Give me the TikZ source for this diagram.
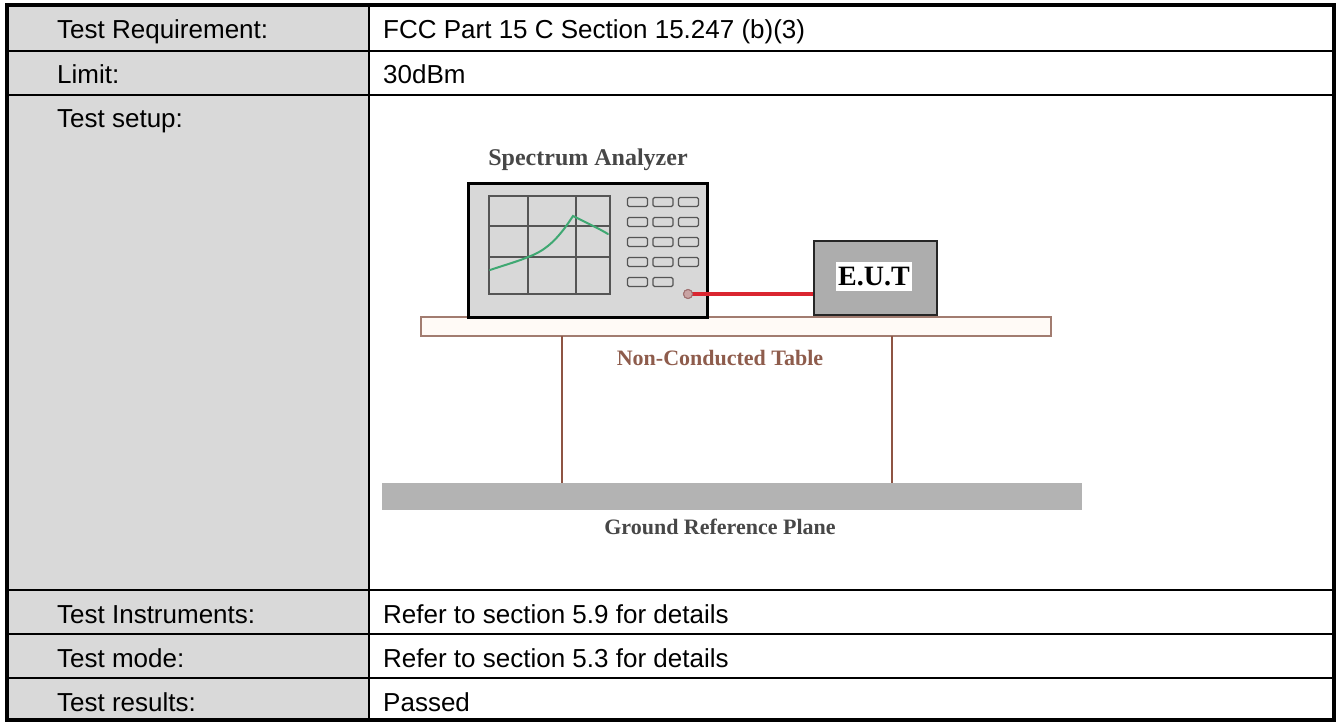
\documentclass[tikz,border=0pt]{standalone}
\usepackage{fontspec}
\setmainfont{Liberation Sans}
\newfontfamily\diagserif{Liberation Serif}
\definecolor{cellgray}{HTML}{D9D9D9}
\definecolor{sagray}{HTML}{D8D8D8}
\definecolor{eutgray}{HTML}{ADADAD}
\definecolor{gridgray}{HTML}{555555}
\definecolor{curvegreen}{HTML}{3FA872}
\definecolor{cablered}{HTML}{DA2530}
\definecolor{tablebrown}{HTML}{A27C70}
\definecolor{tablefill}{HTML}{FFFAF6}
\definecolor{legbrown}{HTML}{8E5443}
\definecolor{groundgray}{HTML}{B3B3B3}
\definecolor{labelbrown}{HTML}{8E5C4C}
\definecolor{labelgray}{HTML}{474747}
\definecolor{portfill}{HTML}{C9A3A3}
\definecolor{portdraw}{HTML}{A07070}
\tikzset{
  celltext/.style={anchor=base west, inner sep=0pt, font=\fontsize{26}{30}\selectfont},
  outerline/.style={line width=4pt},
  innerline/.style={line width=2.5pt},
  diaglabel/.style={inner sep=0pt, font=\diagserif\bfseries\fontsize{22}{26}\selectfont},
  gridline/.style={draw=gridgray, line width=1.4pt},
  sabutton/.style={draw=gridgray, line width=1.2pt, rounded corners=1.5pt, minimum width=20pt, minimum height=9pt, inner sep=0pt},
}
\begin{document}
\begin{tikzpicture}[x=1pt,y=-1pt]
\useasboundingbox (0,0) rectangle (1340,722);
% ---------- table ----------
\fill[cellgray] (7,5) rectangle (369,720);
\foreach \yy in {51,95,590,634,678} \draw[innerline] (7,\yy) -- (1334,\yy);
\draw[innerline] (369,5) -- (369,720);
\draw[outerline] (7,5) rectangle (1334,720);
\node[celltext] (l1) at (57,39) {Test Requirement:};
\node[celltext] (l2) at (57,84) {Limit:};
\node[celltext] (l3) at (57,128) {Test setup:};
\node[celltext] (l4) at (57,623) {Test Instruments:};
\node[celltext] (l5) at (57,667) {Test mode:};
\node[celltext] (l6) at (57,711) {Test results:};
\node[celltext] (r1) at (383,39) {FCC Part 15 C Section 15.247 (b)(3)};
\node[celltext] (r2) at (383,84) {30dBm};
\node[celltext] (r4) at (383,623) {Refer to section 5.9 for details};
\node[celltext] (r5) at (383,667) {Refer to section 5.3 for details};
\node[celltext] (r6) at (383,711) {Passed};
% ---------- setup drawing ----------
% table top and legs
\draw[draw=tablebrown, fill=tablefill, line width=1.6pt] (421,317) rectangle (1051,336);
\draw[draw=legbrown, line width=2pt] (562,336) -- (562,484);
\draw[draw=legbrown, line width=2pt] (892,336) -- (892,484);
\fill[groundgray] (382,483) rectangle (1082,510);
\node[diaglabel, text=labelbrown] (tablelabel) at (720,358) {Non-Conducted Table};
\node[diaglabel, text=labelgray] (groundlabel) at (720,527) {Ground Reference Plane};
% spectrum analyzer
\node[draw=black, fill=sagray, line width=3pt, anchor=north west, inner sep=0pt,
      minimum width=239pt, minimum height=133pt] (sa) at (466.5,182.5) {};
\node[diaglabel, text=labelgray, font=\diagserif\bfseries\fontsize{24}{28}\selectfont] (salabel) at (588,160) {Spectrum Analyzer};
\draw[gridline] (489,196) rectangle (610,294);
\draw[gridline] (528,196) -- (528,294);
\draw[gridline] (576,196) -- (576,294);
\draw[gridline] (489,226) -- (610,226);
\draw[gridline] (489,257) -- (610,257);
\draw[curvegreen, line width=2pt, line cap=round]
  (490,270) .. controls (508,264) and (519,261) .. (528,257)
  .. controls (548,250) and (560,236) .. (573,216)
  .. controls (585,222) and (598,228) .. (608,234);
\foreach \r/\yy in {1/202,2/222,3/242,4/262} {
  \node[sabutton] (b\r a) at (637.5,\yy) {};
  \node[sabutton] (b\r b) at (663,\yy) {};
  \node[sabutton] (b\r c) at (688.5,\yy) {};
}
\node[sabutton] (b5a) at (637.5,282) {};
\node[sabutton] (b5b) at (663,282) {};
\node[circle, draw=portdraw, fill=portfill, line width=1pt, minimum size=9pt, inner sep=0pt] (port) at (688,294) {};
% EUT
\node[draw=black!85, fill=eutgray, line width=2pt, anchor=north west, inner sep=0pt,
      minimum width=123pt, minimum height=74pt] (eut) at (813,240) {};
\node[fill=white, inner xsep=2pt, inner ysep=5pt, font=\diagserif\bfseries\fontsize{28}{32}\selectfont] (eutlabel) at (874,276.5) {E.U.T};
% cable
\draw[cablered, line width=4pt] (port.center) -- (port.center -| eut.west);
\node[circle, draw=portdraw, fill=portfill, line width=1pt, minimum size=9pt, inner sep=0pt] at (port) {};
\end{tikzpicture}
\end{document}
